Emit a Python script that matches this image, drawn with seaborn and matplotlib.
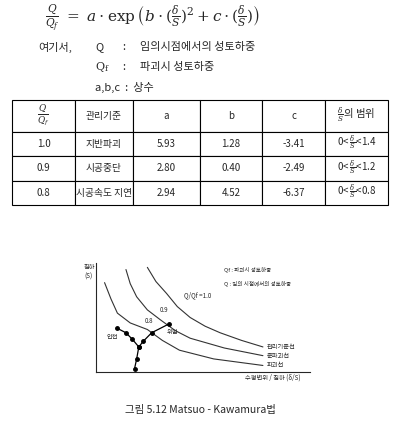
import matplotlib
matplotlib.use("Agg")
from matplotlib import pyplot as plt
import pandas as pd
import seaborn as sns

# ------------------------------- Data --------------------------------
table_header = [r"$\frac{Q}{Q_f}$", "관리기준", "a", "b", "c", r"$\frac{\delta}{S}$의 범위"]
ratio = ["1.0", "0.9", "0.8"]
criteria = ["지반파괴", "시공중단", "시공속도 지연"]
a_vals = ["5.93", "2.80", "2.94"]
b_vals = ["1.28", "0.40", "4.52"]
c_vals = ["-3.41", "-2.49", "-6.37"]
ranges = [r"0< $\frac{\delta}{S}$<1.4", r"0< $\frac{\delta}{S}$<1.2", r"0< $\frac{\delta}{S}$<0.8"]

curve_x_10 = [0.24, 0.28, 0.33, 0.38, 0.44, 0.51, 0.58, 0.68, 0.78]
curve_y_10 = [0.96, 0.83, 0.72, 0.60, 0.50, 0.42, 0.36, 0.29, 0.23]
curve_x_09 = [0.14, 0.16, 0.19, 0.24, 0.30, 0.37, 0.44, 0.60, 0.78]
curve_y_09 = [0.94, 0.81, 0.69, 0.57, 0.48, 0.38, 0.31, 0.22, 0.15]
curve_x_08 = [0.04, 0.07, 0.10, 0.16, 0.24, 0.31, 0.39, 0.55, 0.78]
curve_y_08 = [0.82, 0.67, 0.54, 0.45, 0.39, 0.29, 0.20, 0.12, 0.06]
path_x = [0.10, 0.14, 0.17, 0.20, 0.22, 0.26, 0.34]
path_y = [0.40, 0.36, 0.30, 0.23, 0.28, 0.36, 0.44]
stem_x = [0.20, 0.19, 0.18]
stem_y = [0.23, 0.12, 0.03]

sns.set_style("white")
plt.rcParams['font.family'] = ['Noto Sans CJK KR', 'DejaVu Sans']
plt.rcParams['mathtext.fontset'] = 'dejavuserif'

W, H = 400, 433
fig = plt.figure(figsize=(W / 100, H / 100), dpi=100)

def ft(x, y, s, **kw):
    fig.text(x / W, 1 - y / H, s, va='center', **kw)

# ------------------------------- Formula --------------------------------
ft(45, 18, r"$\frac{Q}{Q_f}\ =\ a\cdot\exp\left(b\cdot(\frac{\delta}{S})^{2}+c\cdot(\frac{\delta}{S})\right)$", fontsize=11)
ft(38, 47, "여기서,", fontsize=8)
ft(95, 47, "Q", fontsize=8)
ft(122, 47, ":", fontsize=8)
ft(140, 47, "임의시점에서의 성토하중", fontsize=8)
ft(95, 67, r"$\mathrm{Q_f}$", fontsize=8)
ft(122, 67, ":", fontsize=8)
ft(140, 67, "파괴시 성토하중", fontsize=8)
ft(95, 87, "a,b,c  :  상수", fontsize=8)

# ------------------------------- Table --------------------------------
tax = fig.add_axes([12 / W, 1 - 205 / H, 376 / W, 105 / H])
tax.axis('off')
rows = [table_header] + [list(r) for r in zip(ratio, criteria, a_vals, b_vals, c_vals, ranges)]
col_edges = [12, 75, 133, 200, 262, 325, 388]
widths = [(col_edges[i + 1] - col_edges[i]) / 376 for i in range(6)]
tbl = tax.table(cellText=rows, colWidths=widths, cellLoc='center', bbox=[0, 0, 1, 1])
tbl.auto_set_font_size(False)
for (r, c), cell in tbl.get_celld().items():
    cell.set_linewidth(0.8)
    cell.get_text().set_fontsize(7)
    cell.set_height(0.3 if r == 0 else 0.233)
    if r == 0 and c in (0, 5):
        cell.get_text().set_fontsize(9 if c == 0 else 7.5)

# ------------------------------- Chart --------------------------------
ax = fig.add_axes([96 / W, 1 - 372 / H, 214 / W, 109 / H])
for xs, ys in [(curve_x_10, curve_y_10), (curve_x_09, curve_y_09), (curve_x_08, curve_y_08)]:
    sns.lineplot(x=xs, y=ys, ax=ax, color='#333333', lw=0.8)
ax.plot(path_x, path_y, color='black', lw=0.9, marker='o', ms=2.5)
ax.plot(stem_x, stem_y, color='black', lw=0.9, marker='o', ms=2.5)
ax.set_xlim(0, 1)
ax.set_ylim(0, 1)
ax.set_xticks([])
ax.set_yticks([])
sns.despine(ax=ax)
for sp in ax.spines.values():
    sp.set_linewidth(0.8)
ax.text(0.80, 0.23, "관리기준선", fontsize=4.5, va='center')
ax.text(0.80, 0.15, "준파괴선", fontsize=4.5, va='center')
ax.text(0.80, 0.06, "파괴선", fontsize=4.5, va='center')
ax.text(0.41, 0.69, "Q/Qf =1.0", fontsize=4.5)
ax.text(0.30, 0.55, "0.9", fontsize=4.5)
ax.text(0.23, 0.45, "0.8", fontsize=4.5)
ax.text(0.33, 0.35, "위험", fontsize=4.5)
ax.text(0.05, 0.30, "안전", fontsize=4.5)
ax.text(0.60, 0.92, "Qf : 파괴시 성토하중", fontsize=4)
ax.text(0.60, 0.80, "Q : 임의 시점에서의 성토하중", fontsize=4)
ft(84, 272, "침하\n(S)", fontsize=4.5)
ft(245, 378, "수평변위 / 침하 (δ/S)", fontsize=4.5)

ft(200, 410, "그림 5.12 Matsuo - Kawamura법", fontsize=7.5, ha='center')

fig.savefig("out.png", dpi=100)
